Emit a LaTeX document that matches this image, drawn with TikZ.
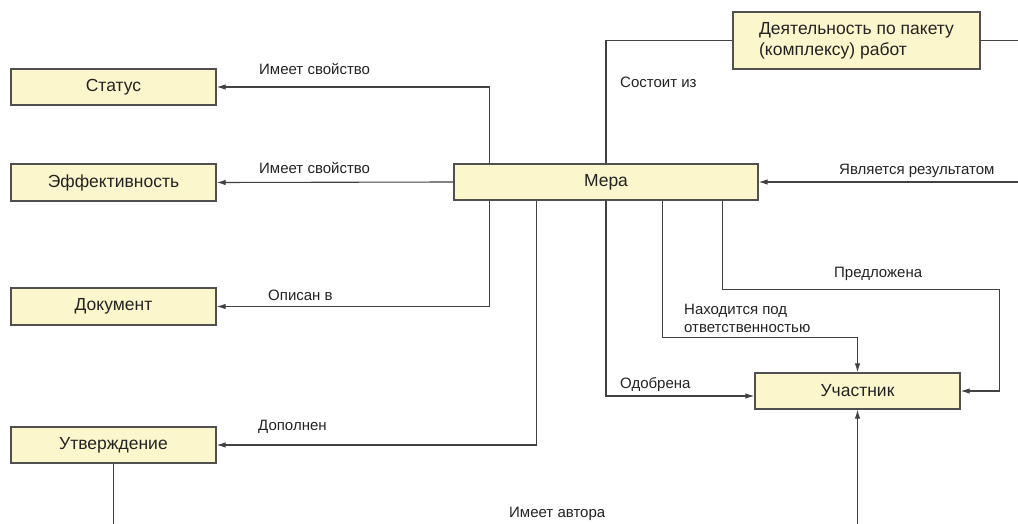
\documentclass[tikz,border=0pt]{standalone}
\usepackage{fontspec}
\setmainfont{Liberation Sans}
\usetikzlibrary{arrows.meta}
\definecolor{boxfill}{RGB}{252,246,204}
\definecolor{boxline}{RGB}{80,80,80}
\definecolor{wire}{RGB}{65,65,65}
\definecolor{ink}{RGB}{35,35,35}
\begin{document}
\begin{tikzpicture}[x=1pt,y=-1pt,
  entity/.style={draw=boxline, fill=boxfill, line width=1.3pt, inner sep=0pt,
    minimum width=205pt, minimum height=36pt, text=ink,
    font=\fontsize{17.5}{21}\selectfont},
  link/.style={draw=wire, line width=1.1pt},
  tip/.style={-{Latex[length=9pt,width=5.5pt]}},
  rel/.style={text=ink, font=\fontsize{15}{18}\selectfont, inner sep=0pt, anchor=base west},
]
\useasboundingbox (0,0) rectangle (1018,524);

% entities
\node[entity] (status) at (113.5,87) {Статус};
\node[entity, minimum height=37pt] (eff) at (113.5,182.5) {Эффективность};
\node[entity, minimum height=37pt] (doc) at (113.5,306.5) {Документ};
\node[entity] (utv) at (113.5,445) {Утверждение};
\node[entity, minimum width=304pt] (mera) at (606,182) {Мера};
\node[entity, minimum width=247pt, minimum height=57pt, align=left] (act) at (856.5,40.5)
  {Деятельность по пакету\\(комплексу) работ};
\node[entity] (uch) at (857.5,391) {Участник};

% free ends of lines running off the sheet
\coordinate (outA) at (1018,40.5);
\coordinate (outB) at (1018,182);
\coordinate (outC) at (113.5,524);
\coordinate (inD) at (857.5,524);

% relations of the measure
\draw[link,tip] ([xshift=36pt]mera.north west) |- (status.east);
\draw[link,tip] (mera.west) -- (eff.east);
\draw[link,tip] ([xshift=36pt]mera.south west) |- (doc.east);
\draw[link,tip] ([xshift=83pt]mera.south west) |- (utv.east);
\draw[link] (mera.north) |- (act.west);
\draw[link] (act.east) -- (outA);
\draw[link,tip] (outB) -- (mera.east);
\draw[link,tip] (mera.south) |- ([yshift=-5pt]uch.west);
\draw[link,tip] ([xshift=209pt]mera.south west) -- ++(0,137) -| (uch.north);
\draw[link,tip] ([xshift=269pt]mera.south west) -- ++(0,89) -| ([xshift=39pt]uch.east) -- (uch.east);
\draw[link] (utv.south) -- (outC);
\draw[link,tip] (inD) -- (uch.south);

% relation labels
\node[rel] (l1) at (259,75) {Имеет свойство};
\node[rel] (l2) at (259,174) {Имеет свойство};
\node[rel] (l3) at (268,300) {Описан в};
\node[rel] (l4) at (258,430) {Дополнен};
\node[rel] (l5) at (620,88) {Состоит из};
\node[rel] (l6) at (839,175) {Является результатом};
\node[rel] (l7) at (834,277) {Предложена};
\node[rel] (l8a) at (684,314) {Находится под};
\node[rel] (l8b) at (684,332) {ответственностью};
\node[rel] (l9) at (620,388) {Одобрена};
\node[rel] (l10) at (509,517) {Имеет автора};
\end{tikzpicture}
\end{document}
